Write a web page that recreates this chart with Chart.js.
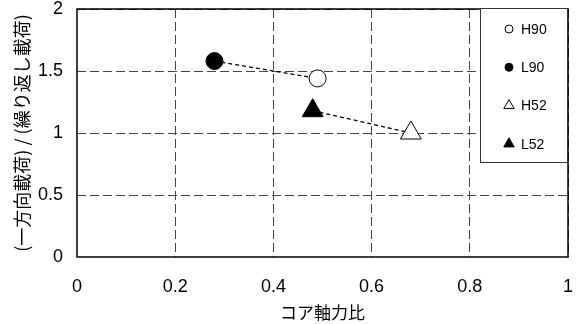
<!DOCTYPE html>
<html>
<head>
<meta charset="utf-8">
<script src="https://cdn.jsdelivr.net/npm/chart.js@4/dist/chart.umd.min.js"></script>
<style>
  html, body { margin: 0; padding: 0; background: #fff; }
  #wrap { width: 577px; height: 324px; }
</style>
</head>
<body>
<div id="wrap"><canvas id="graf"></canvas></div>
<script>
// dados
const series = ['H90', 'L90', 'H52', 'L52'];
const axialRatio = [0.49, 0.28, 0.68, 0.48];   // コア軸力比
const loadRatio = [1.44, 1.58, 1.00, 1.18];    // (一方向載荷)/(繰り返し載荷)
const markerShape = ['circle', 'circle', 'triangle', 'triangle'];
const markerFilled = [false, true, false, true];
const linkedPairs = [['L90', 'H90'], ['L52', 'H52']];
const xTickValues = [0, 0.2, 0.4, 0.6, 0.8, 1];
const yTickValues = [0, 0.5, 1, 1.5, 2];

const xTitle = 'コア軸力比';
const yTitle = '(一方向載荷) / (繰り返し載荷)';

const fonteNum = 'Arial, "Liberation Sans", sans-serif';
const fonteJp = '"Noto Sans CJK JP", sans-serif';

function montarDatasets() {
    const ds = [];
    series.forEach(function (nome, i) {
        ds.push({
            type: 'scatter',
            label: nome,
            data: [{ x: axialRatio[i], y: loadRatio[i] }],
            pointStyle: markerShape[i],
            pointRadius: markerShape[i] === 'circle' ? 8.5 : 12,
            pointBackgroundColor: markerFilled[i] ? '#000' : '#fff',
            pointBorderColor: '#000',
            pointBorderWidth: 1,
            order: 1
        });
    });
    linkedPairs.forEach(function (par) {
        const a = series.indexOf(par[0]);
        const b = series.indexOf(par[1]);
        ds.push({
            type: 'line',
            label: '',
            data: [{ x: axialRatio[a], y: loadRatio[a] }, { x: axialRatio[b], y: loadRatio[b] }],
            borderColor: '#000',
            borderWidth: 1.3,
            borderDash: [4, 3],
            pointRadius: 0,
            fill: false,
            order: 2
        });
    });
    return ds;
}

// legenda desenhada dentro da area do grafico
const legendaCaixa = {
    id: 'legendaCaixa',
    afterDatasetsDraw(chart) {
        const ctx = chart.ctx;
        const area = chart.chartArea;
        const w = 87, h = 154;
        const x0 = area.right - w - 1;
        const y0 = area.top - 1;
        ctx.save();
        ctx.fillStyle = '#fff';
        ctx.fillRect(x0, y0, w, h);
        ctx.strokeStyle = '#333';
        ctx.lineWidth = 1;
        ctx.strokeRect(x0 + 0.5, y0 + 0.5, w, h);
        ctx.font = '14px ' + fonteNum;
        ctx.textBaseline = 'middle';
        ctx.textAlign = 'left';
        series.forEach(function (nome, i) {
            const cy = y0 + 21 + i * 38.3;
            const cx = x0 + 29;
            const opt = {
                pointStyle: markerShape[i],
                radius: markerShape[i] === 'circle' ? 4 : 6,
                borderWidth: 1,
                rotation: 0
            };
            ctx.fillStyle = markerFilled[i] ? '#000' : '#fff';
            ctx.strokeStyle = '#000';
            ctx.lineWidth = 1;
            Chart.helpers.drawPoint(ctx, opt, cx, cy);
            ctx.fillStyle = '#000';
            ctx.fillText(nome, x0 + 41, cy + 1);
        });
        ctx.restore();
    }
};

const bordaArea = {
    id: 'bordaArea',
    beforeDatasetsDraw(chart) {
        const a = chart.chartArea;
        const ctx = chart.ctx;
        ctx.save();
        ctx.strokeStyle = '#000';
        ctx.lineWidth = 1.5;
        ctx.strokeRect(a.left, a.top, a.right - a.left, a.bottom - a.top);
        ctx.restore();
    }
};

function gradeTracejada() {
    return {
        color: function (c) {
            return c.index === 0 ? 'rgba(0,0,0,0)' : '#444';
        },
        lineWidth: 1,
        drawTicks: false
    };
}

new Chart(document.getElementById('graf'), {
    data: { datasets: montarDatasets() },
    options: {
        responsive: true,
        maintainAspectRatio: false,
        animation: false,
        layout: { autoPadding: false, padding: { top: 9, right: 9, left: 0, bottom: 0 } },
        plugins: {
            legend: { display: false },
            tooltip: { enabled: false }
        },
        scales: {
            x: {
                type: 'linear',
                min: 0,
                max: 1,
                afterBuildTicks: function (s) { s.ticks = xTickValues.map(function (v) { return { value: v }; }); },
                afterFit: function (s) { s.height = 67; s.paddingLeft = 0; s.paddingRight = 0; },
                grid: gradeTracejada(),
                border: { display: false, dash: [9, 4] },
                ticks: {
                    padding: 21,
                    color: '#000',
                    maxRotation: 0,
                    font: { family: fonteNum, size: 18, lineHeight: 1 },
                    callback: function (v) { return String(v); }
                },
                title: {
                    display: true,
                    text: xTitle,
                    color: '#000',
                    font: { family: fonteJp, size: 17, lineHeight: 1.2 },
                    padding: { top: 0, bottom: 1 }
                }
            },
            y: {
                type: 'linear',
                min: 0,
                max: 2,
                afterBuildTicks: function (s) { s.ticks = yTickValues.map(function (v) { return { value: v }; }); },
                afterFit: function (s) { s.width = 77; s.paddingTop = 0; s.paddingBottom = 0; },
                grid: gradeTracejada(),
                border: { display: false, dash: [9, 4] },
                ticks: {
                    padding: 14,
                    color: '#000',
                    font: { family: fonteNum, size: 18, lineHeight: 1 },
                    callback: function (v) { return String(v); }
                },
                title: {
                    display: true,
                    text: yTitle,
                    color: '#000',
                    font: { family: fonteJp, size: 18, lineHeight: 1.2 },
                    padding: { top: 11, bottom: 0 }
                }
            }
        }
    },
    plugins: [bordaArea, legendaCaixa]
});
</script>
</body>
</html>
